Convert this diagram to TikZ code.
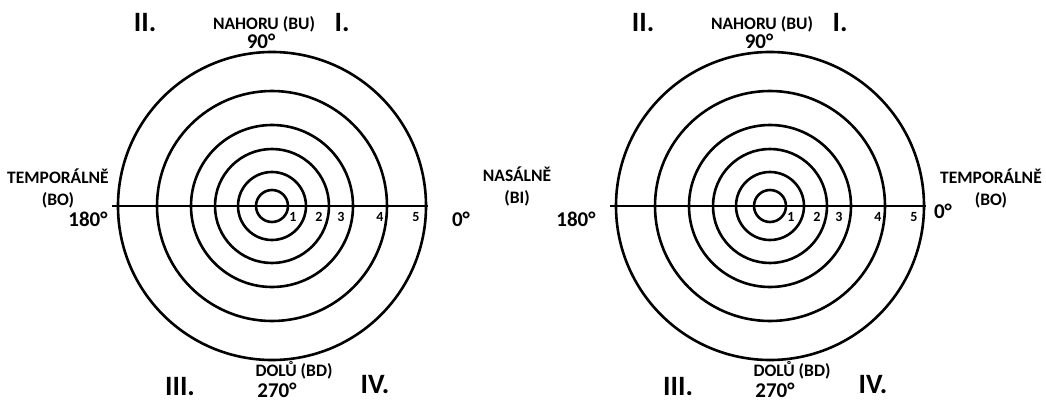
\documentclass[tikz,border=0pt]{standalone}
\usepackage{fontspec}
\setmainfont{Carlito}
\usetikzlibrary{positioning, calc}

\begin{document}
\begin{tikzpicture}[
  x=1pt, y=-1pt,
  ring/.style={draw, line width=2.6pt},
  axis/.style={draw, line width=2.6pt},
  dir/.style={align=center, inner sep=0pt,
    font=\bfseries\fontsize{17.5}{22}\selectfont},
  deg/.style={inner sep=0pt, font=\bfseries\fontsize{21}{22}\selectfont},
  quad/.style={inner sep=0pt, font=\bfseries\fontsize{28}{28}\selectfont},
  num/.style={inner sep=0pt, font=\bfseries\fontsize{14}{14}\selectfont}
]
\useasboundingbox (0,0) rectangle (1046,401);

% ============================================================
% Centres of both fields
% ============================================================

\coordinate (L) at (272,206);
\coordinate (R) at (770,206);

% ============================================================
% Rings, axis and ring numbers
% ============================================================

\foreach \c in {L,R} {
  \foreach \r in {16,34,57,81,115,154}
    \draw[ring] (\c) circle (\r);
  \coordinate (\c a) at ($(\c)+(-160,0)$);
  \coordinate (\c b) at ($(\c)+(156,0)$);
  \draw[axis] (\c a) -- (\c b);
  \foreach \n/\dx in {1/21,2/47,3/69,4/108,5/144}
    \node[num] (\c n\n) at ($(\c)+(\dx,11)$) {\n};
}

% ============================================================
% Left field labels
% ============================================================

\node[dir] (Lup) at (264,24) {NAHORU (BU)};
\node[deg] (L90) at (261,41) {90°};
\node[quad] (LII) at (145,23) {II.};
\node[quad] (LI) at (342,23) {I.};
\node[dir] (Ltemp) at (58,188) {TEMPORÁLNĚ\\(BO)};
\node[deg] (L180) at (88,219) {180°};
\node[deg] (L0) at (461,219) {0°};
\node[dir] (Ldown) at (294,370) {DOLŮ (BD)};
\node[deg] (L270) at (277,390) {270°};
\node[quad] (LIII) at (180,387) {III.};
\node[quad] (LIV) at (375,385) {IV.};

% ============================================================
% Middle label
% ============================================================

\node[dir] (nas) at (517,186) {NASÁLNĚ\\(BI)};

% ============================================================
% Right field labels
% ============================================================

\node[dir] (Rup) at (762,24) {NAHORU (BU)};
\node[deg] (R90) at (759,41) {90°};
\node[quad] (RII) at (643,23) {II.};
\node[quad] (RI) at (840,23) {I.};
\node[dir] (Rtemp) at (991,188) {TEMPORÁLNĚ\\(BO)};
\node[deg] (R180) at (576,219) {180°};
\node[deg] (R0) at (943,211) {0°};
\node[dir] (Rdown) at (792,370) {DOLŮ (BD)};
\node[deg] (R270) at (775,390) {270°};
\node[quad] (RIII) at (678,387) {III.};
\node[quad] (RIV) at (873,385) {IV.};

\end{tikzpicture}
\end{document}
